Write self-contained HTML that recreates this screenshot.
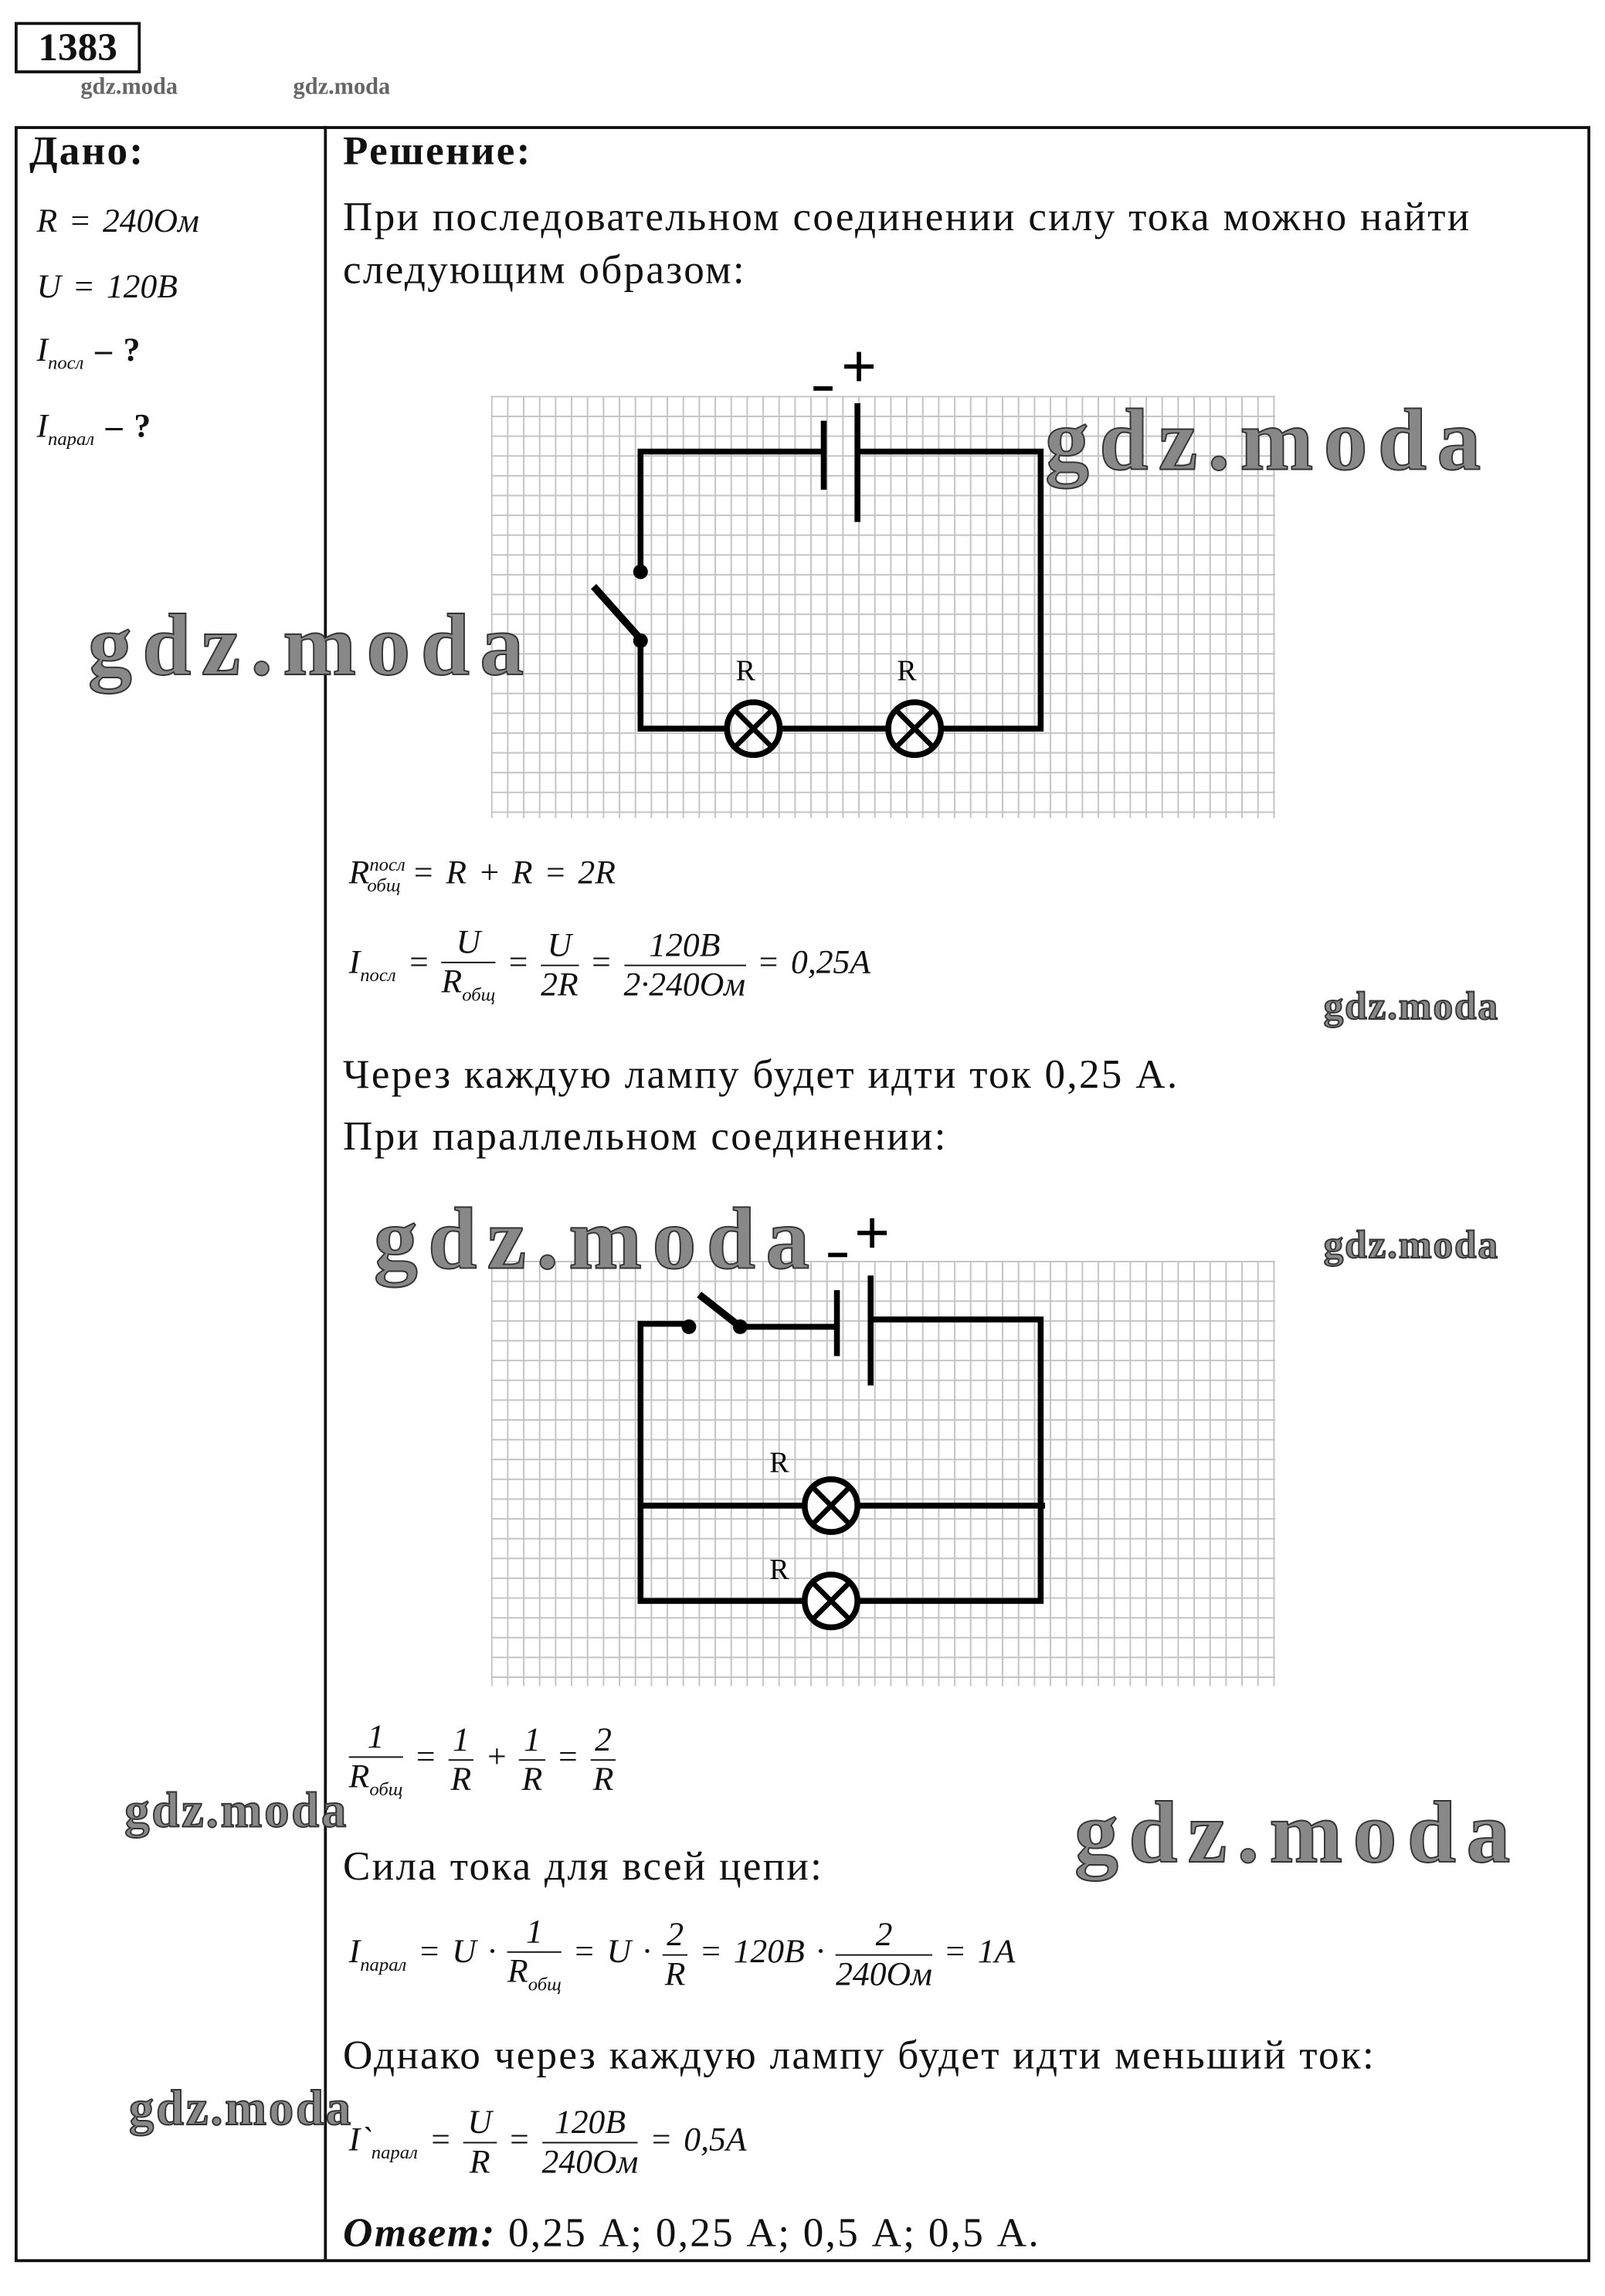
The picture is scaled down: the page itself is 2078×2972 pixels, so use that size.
<!DOCTYPE html>
<html><head><meta charset="utf-8"><style>
html,body{margin:0;padding:0;background:#fff;}
#wrap{width:2078px;height:2972px;overflow:hidden;position:relative;}
#p{position:absolute;left:0;top:0;width:1095px;height:1566px;transform:scale(1.8977);transform-origin:0 0;font-family:"Liberation Serif",serif;color:#111;}
.t{position:absolute;white-space:nowrap;font-size:28px;letter-spacing:1.2px;}
.f{position:absolute;white-space:nowrap;font-size:23px;font-style:italic;word-spacing:2px;}
.grid{position:absolute;background-image:linear-gradient(to right,#c4c4c4 1px,transparent 1px),linear-gradient(to bottom,#c4c4c4 1px,transparent 1px);background-size:10.9px 13.5px;}
.wm{position:absolute;font-family:"Liberation Serif",serif;font-weight:bold;color:#888;-webkit-text-stroke:1px #333;white-space:nowrap;}
sub,sup{font-size:13px;}
.fr{display:inline-block;vertical-align:middle;text-align:center;}
.fr span{display:block;}
.fr .n{border-bottom:1.5px solid #111;padding:0 3px;}
</style></head><body><div id="wrap"><div id="p">
<div style="position:absolute;left:10px;top:15px;width:82px;height:31px;border:2px solid #111;font:bold 27px 'Liberation Serif',serif;text-align:center;line-height:31px;">1383</div>
<div class="wm" style="left:55px;top:51px;font-size:16px;-webkit-text-stroke:0;color:#666">gdz.moda</div>
<div class="wm" style="left:200px;top:51px;font-size:16px;-webkit-text-stroke:0;color:#666">gdz.moda</div>
<div style="position:absolute;left:10px;top:86px;width:1071px;height:1453px;border:2px solid #111;"></div>
<div style="position:absolute;left:221px;top:86px;width:2px;height:1455px;background:#111;"></div>
<div class="t" style="left:20px;top:88px;font-weight:bold">Дано:</div>
<div class="f" style="left:25px;top:138px">R = 240Ом</div>
<div class="f" style="left:25px;top:183px">U = 120B</div>
<div class="f" style="left:25px;top:226px">I<sub>посл</sub> <b style="font-style:normal">– ?</b></div>
<div class="f" style="left:25px;top:278px">I<sub>парал</sub> <b style="font-style:normal">– ?</b></div>
<div class="t" style="left:234px;top:88px;font-weight:bold">Решение:</div>
<div class="t" style="left:234px;top:133px">При последовательном соединении силу тока можно найти</div>
<div class="t" style="left:234px;top:169px">следующим образом:</div>

<div class="grid" style="left:335px;top:270px;width:535px;height:288px;"></div>
<svg style="position:absolute;left:0;top:0" width="1095" height="1566">
<g stroke="#000" stroke-width="4" fill="none">
<path d="M562 308 H437 V390 M437 437 V497 H496 M532 497 H606 M642 497 H710 V308 H585"/>
<path d="M562 287 V334 M585 275 V356"/>
<path d="M405 400 L438 437" stroke-width="5"/>
<circle cx="514" cy="497" r="18"/><circle cx="624" cy="497" r="18"/>
<path d="M501 484 L527 510 M527 484 L501 510 M611 484 L637 510 M637 484 L611 510" stroke-width="3.5"/>
<path d="M555 265 H568 M576 250 H596 M586 240 V260" stroke-width="3"/>
<path d="M565 856 H578 M585 841 H605 M595 831 V851" stroke-width="3"/>
</g>
<g fill="#000"><circle cx="437" cy="390" r="5"/><circle cx="437" cy="437" r="5"/></g>
<g font-family="Liberation Serif" font-size="20"><text x="502" y="464">R</text><text x="612" y="464">R</text></g>
</svg>
<div class="grid" style="left:335px;top:860px;width:535px;height:290px;"></div>
<svg style="position:absolute;left:0;top:0" width="1095" height="1566">
<g stroke="#000" stroke-width="4" fill="none">
<path d="M470 903 H437 V1092 H549 M585 1092 H710 V900 H594 M437 1027 H549 M585 1027 H713 M505 905 H571"/>
<path d="M571 880 V925 M594 870 V945"/>
<path d="M477 883 L505 905" stroke-width="5"/>
<circle cx="567" cy="1027" r="18" fill="#fff"/><circle cx="567" cy="1092" r="18" fill="#fff"/>
<path d="M554 1014 L580 1040 M580 1014 L554 1040 M554 1079 L580 1105 M580 1079 L554 1105" stroke-width="3.5"/>
</g>
<g fill="#000"><circle cx="470" cy="905" r="5"/><circle cx="505" cy="905" r="5"/></g>
<g font-family="Liberation Serif" font-size="20"><text x="525" y="1004">R</text><text x="525" y="1077">R</text></g>
</svg>

<div class="f" style="left:238px;top:582px">R<sup>посл</sup><sub style="margin-left:-26px">общ</sub> = R + R = 2R</div>
<div class="f" style="left:238px;top:630px">I<sub>посл</sub> = <span class="fr"><span class="n">U</span><span>R<sub>общ</sub></span></span> = <span class="fr"><span class="n">U</span><span>2R</span></span> = <span class="fr"><span class="n">120B</span><span>2·240Ом</span></span> = 0,25A</div>
<div class="t" style="left:234px;top:718px">Через каждую лампу будет идти ток 0,25 А.</div>
<div class="t" style="left:234px;top:760px">При параллельном соединении:</div>
<div class="f" style="left:238px;top:1172px"><span class="fr"><span class="n">1</span><span>R<sub>общ</sub></span></span> = <span class="fr"><span class="n">1</span><span>R</span></span> + <span class="fr"><span class="n">1</span><span>R</span></span> = <span class="fr"><span class="n">2</span><span>R</span></span></div>
<div class="t" style="left:234px;top:1258px">Сила тока для всей цепи:</div>
<div class="f" style="left:238px;top:1305px">I<sub>парал</sub> = U · <span class="fr"><span class="n">1</span><span>R<sub>общ</sub></span></span> = U · <span class="fr"><span class="n">2</span><span>R</span></span> = 120B · <span class="fr"><span class="n">2</span><span>240Ом</span></span> = 1A</div>
<div class="t" style="left:234px;top:1387px">Однако через каждую лампу будет идти меньший ток:</div>
<div class="f" style="left:238px;top:1435px">I`<sub>парал</sub> = <span class="fr"><span class="n">U</span><span>R</span></span> = <span class="fr"><span class="n">120B</span><span>240Ом</span></span> = 0,5A</div>
<div class="t" style="left:234px;top:1508px"><b><i>Ответ:</i></b> 0,25 А; 0,25 А; 0,5 А; 0,5 А.</div>

<div class="wm" style="left:713px;top:266px;font-size:60px;letter-spacing:7px">gdz.moda</div>
<div class="wm" style="left:60px;top:406px;font-size:60px;letter-spacing:7px">gdz.moda</div>
<div class="wm" style="left:255px;top:811px;font-size:60px;letter-spacing:7px">gdz.moda</div>
<div class="wm" style="left:733px;top:1216px;font-size:60px;letter-spacing:7px">gdz.moda</div>
<div class="wm" style="left:903px;top:671px;font-size:27px;letter-spacing:1px">gdz.moda</div>
<div class="wm" style="left:903px;top:834px;font-size:27px;letter-spacing:1px">gdz.moda</div>
<div class="wm" style="left:85px;top:1217px;font-size:34px;letter-spacing:1.5px">gdz.moda</div>
<div class="wm" style="left:88px;top:1420px;font-size:34px;letter-spacing:1.5px">gdz.moda</div>
</div></div></body></html>
